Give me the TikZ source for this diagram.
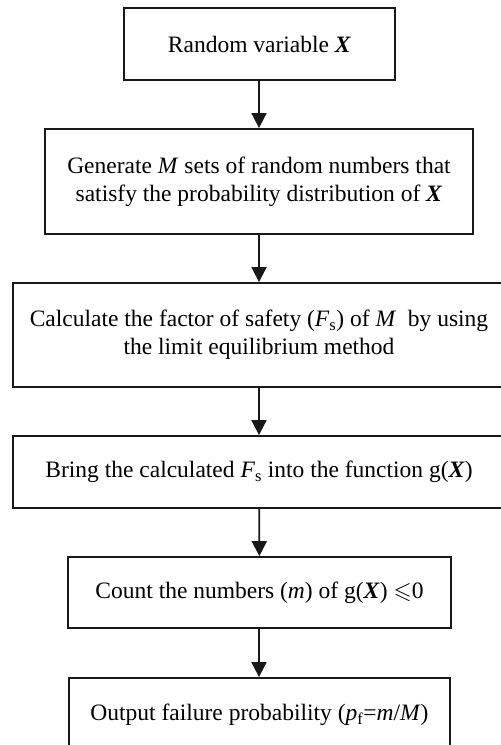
\documentclass[tikz,border=0pt]{standalone}
\usepackage{amssymb}
\usepackage{fontspec}
\setmainfont{Liberation Serif}
\usetikzlibrary{arrows.meta}
\newcommand{\bX}{\textbf{\textit{X}}}
\begin{document}
\begin{tikzpicture}[x=1pt,y=-1pt,
  flowbox/.style={draw=black!90, line width=1.8pt, rectangle, align=center,
    inner sep=0pt, font=\fontsize{23.5}{28}\selectfont},
  flowarrow/.style={draw=black!90, line width=1.8pt, -{Triangle[length=15pt,width=15pt]}}]
\useasboundingbox (0,0) rectangle (501,745);
\clip (0,0) rectangle (501,745);
\node[flowbox, minimum width=271pt, minimum height=72pt] (b1) at (259.5,44)
  {Random variable \bX};
\node[flowbox, minimum width=428pt, minimum height=105pt] (b2) at (259,181.5)
  {Generate \textit{M} sets of random numbers that\\satisfy the probability distribution of \bX};
\node[flowbox, minimum width=492pt, minimum height=104pt] (b3) at (259,335)
  {Calculate the factor of safety (\textit{F}\textsubscript{s}) of \textit{M}\ \ by using\\the limit equilibrium method};
\node[flowbox, minimum width=492pt, minimum height=72pt] (b4) at (259,472)
  {Bring the calculated \textit{F}\textsubscript{s} into the function g(\bX)};
\node[flowbox, minimum width=383pt, minimum height=71pt] (b5) at (259.5,592.5)
  {Count the numbers (\textit{m}) of g(\bX) $\leqslant$0};
\node[flowbox, minimum width=381pt, minimum height=74pt] (b6) at (259.5,715)
  {Output failure probability (\textit{p}\textsubscript{f}=\textit{m}/\textit{M})};
\draw[flowarrow] (b1.south -| 259,0) -- (b2.north -| 259,0);
\draw[flowarrow] (b2.south -| 259,0) -- (b3.north -| 259,0);
\draw[flowarrow] (b3) -- (b4);
\draw[flowarrow] (b4) -- (b5);
\draw[flowarrow] (b5.south -| 259,0) -- (b6.north -| 259,0);
\end{tikzpicture}
\end{document}
